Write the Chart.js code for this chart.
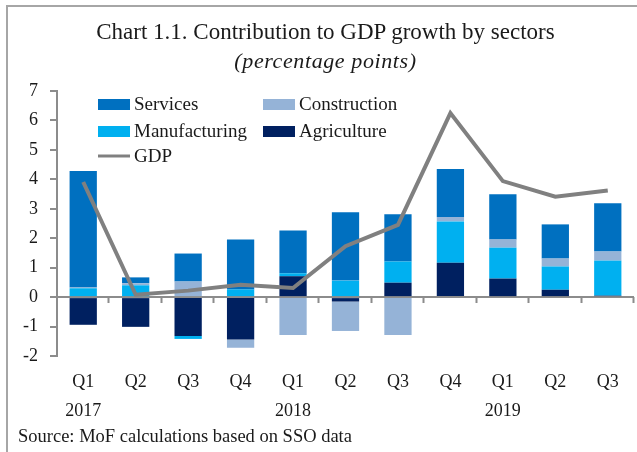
<!DOCTYPE html>
<html>
<head>
<meta charset="utf-8">
<script src="https://cdn.jsdelivr.net/npm/chart.js@4.4.1/dist/chart.umd.min.js"></script>
<style>
  html, body { margin: 0; padding: 0; background: #fff; }
  #wrap { position: relative; width: 637px; height: 452px; overflow: hidden; font-family: "Liberation Serif", serif; color: #1a1a1a; }
  #frame { position: absolute; left: 6px; top: 5px; right: -4px; bottom: -4px; border-top: 2px solid #a6a6a6; border-left: 2px solid #a6a6a6; }
  canvas { position: absolute; left: 0; top: 0; }
  .txt { position: absolute; white-space: nowrap; }
  #title { left: 0; width: 651px; text-align: center; top: 19px; font-size: 23px; }
  #subtitle { left: 0; width: 651px; text-align: center; top: 48px; font-size: 22px; font-style: italic; letter-spacing: 0.6px; }
  #source { left: 18px; top: 426px; font-size: 18.5px; }
</style>
</head>
<body>
<div id="wrap">
  <div id="frame"></div>
  <canvas id="c" width="637" height="452"></canvas>
  <div class="txt" id="title">Chart 1.1. Contribution to GDP growth by sectors</div>
  <div class="txt" id="subtitle">(percentage points)</div>
  <div class="txt" id="source">Source: MoF calculations based on SSO data</div>
</div>
<script>
// Quarterly periods (year shown under each Q1)
const quarters = [['Q1', '2017'], 'Q2', 'Q3', 'Q4', ['Q1', '2018'], 'Q2', 'Q3', 'Q4', ['Q1', '2019'], 'Q2', 'Q3'];

// Sector contributions to GDP growth, percentage points
const agriculture   = [-0.94, -1.01, -1.32, -1.44, 0.71, -0.15, 0.49, 1.17, 0.63, 0.25, 0.05];
const manufacturing = [0.30, 0.40, -0.10, 0.26, 0.10, 0.56, 0.72, 1.40, 1.05, 0.79, 1.19];
const construction  = [0.03, 0.07, 0.53, -0.28, -1.29, -1.00, -1.29, 0.15, 0.28, 0.27, 0.31];
const services      = [3.95, 0.20, 0.95, 1.70, 1.45, 2.32, 1.60, 1.63, 1.53, 1.16, 1.64];

// Real GDP growth, %
const gdp = [3.91, 0.08, 0.22, 0.42, 0.31, 1.73, 2.45, 6.25, 3.94, 3.41, 3.62];

const yTicks = [-2, -1, 0, 1, 2, 3, 4, 5, 6, 7];

const COLORS = {
  services: '#0070C0',
  construction: '#95B3D7',
  manufacturing: '#00B0F0',
  agriculture: '#002060',
  gdp: '#808080',
  axis: '#8c8c8c'
};

const FONT = '"Liberation Serif", serif';

// Zero line with category tick marks, plus the in-plot legend
const decorations = {
  id: 'decorations',
  beforeDatasetsDraw(chart) {
    const { ctx, scales: { x, y }, chartArea } = chart;
    const y0 = y.getPixelForValue(0);
    ctx.save();
    ctx.strokeStyle = COLORS.axis;
    ctx.lineWidth = 2;
    ctx.beginPath();
    ctx.moveTo(chartArea.left, y0);
    ctx.lineTo(chartArea.right, y0);
    const n = quarters.length;
    const step = (chartArea.right - chartArea.left) / n;
    for (let i = 1; i <= n; i++) {
      const px = Math.round(chartArea.left + step * i) - 0.5;
      ctx.moveTo(px, y0);
      ctx.lineTo(px, y0 + 6);
    }
    ctx.stroke();
    ctx.restore();
  },
  afterDraw(chart) {
    const { ctx } = chart;
    const items = [
      { label: 'Services', color: COLORS.services, x: 98, y: 104, type: 'box' },
      { label: 'Construction', color: COLORS.construction, x: 263, y: 104, type: 'box' },
      { label: 'Manufacturing', color: COLORS.manufacturing, x: 98, y: 131, type: 'box' },
      { label: 'Agriculture', color: COLORS.agriculture, x: 263, y: 131, type: 'box' },
      { label: 'GDP', color: COLORS.gdp, x: 98, y: 156, type: 'line' }
    ];
    ctx.save();
    ctx.font = '19px ' + FONT;
    ctx.textBaseline = 'middle';
    ctx.textAlign = 'left';
    items.forEach(it => {
      if (it.type === 'box') {
        ctx.fillStyle = it.color;
        ctx.fillRect(it.x, it.y - 5, 32, 11);
      } else {
        ctx.strokeStyle = it.color;
        ctx.lineWidth = 3;
        ctx.beginPath();
        ctx.moveTo(it.x, it.y);
        ctx.lineTo(it.x + 32, it.y);
        ctx.stroke();
      }
      ctx.fillStyle = '#1a1a1a';
      ctx.fillText(it.label, it.x + 36, it.y + 1);
    });
    ctx.restore();
  }
};

new Chart(document.getElementById('c'), {
  data: {
    labels: quarters,
    datasets: [
      { type: 'line', label: 'GDP', data: gdp, borderColor: COLORS.gdp, borderWidth: 4,
        pointRadius: 0, tension: 0, fill: false, stack: 'gdp', order: 0 },
      { type: 'bar', label: 'Agriculture', data: agriculture, backgroundColor: COLORS.agriculture, stack: 'sectors', order: 1 },
      { type: 'bar', label: 'Manufacturing', data: manufacturing, backgroundColor: COLORS.manufacturing, stack: 'sectors', order: 1 },
      { type: 'bar', label: 'Construction', data: construction, backgroundColor: COLORS.construction, stack: 'sectors', order: 1 },
      { type: 'bar', label: 'Services', data: services, backgroundColor: COLORS.services, stack: 'sectors', order: 1 }
    ]
  },
  options: {
    responsive: false,
    animation: false,
    datasets: { bar: { barPercentage: 0.52, categoryPercentage: 1.0, borderWidth: 0 } },
    layout: { padding: { top: 91, left: 0, right: 3, bottom: 30 } },
    plugins: {
      legend: { display: false },
      tooltip: { enabled: false },
      title: { display: false }
    },
    scales: {
      x: {
        stacked: true,
        grid: { display: false },
        border: { display: false },
        ticks: {
          color: '#1a1a1a',
          font: { family: FONT, size: 18, lineHeight: 1.65 },
          maxRotation: 0,
          autoSkip: false,
          padding: 3
        },
        afterFit(scale) { scale.height = 66; }
      },
      y: {
        stacked: true,
        min: -2,
        max: 7,
        afterBuildTicks(scale) { scale.ticks = yTicks.map(v => ({ value: v })); },
        grid: { drawOnChartArea: false, drawTicks: true, tickLength: 7, color: COLORS.axis, lineWidth: 2 },
        border: { display: true, color: COLORS.axis, width: 2 },
        ticks: {
          color: '#1a1a1a',
          font: { family: FONT, size: 18 },
          padding: 12
        },
        afterFit(scale) { scale.width = 57; }
      }
    }
  },
  plugins: [decorations]
});
</script>
</body>
</html>
